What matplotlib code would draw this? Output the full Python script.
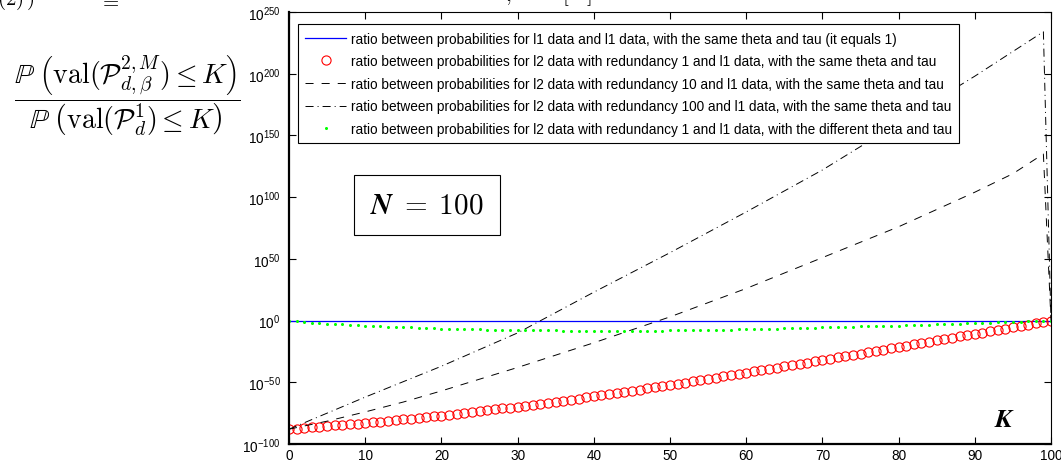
import matplotlib
matplotlib.use("Agg")
from matplotlib import pyplot as plt

plt.rcParams["font.family"] = ["Liberation Sans", "DejaVu Sans"]
plt.rcParams["mathtext.fontset"] = "cm"
plt.rcParams["lines.scale_dashes"] = False

# Data (exponents of 10)
k_points = list(range(101))
red_exp = [
    -88, -87.5, -87, -86.5, -86, -85.5, -85, -84.5, -84, -83.5,
    -83, -82.4, -81.8, -81.2, -80.6, -80, -79.4, -78.8, -78.2, -77.6,
    -77, -76.3, -75.6, -74.8, -74.1, -73.4, -72.7, -72, -71.2, -70.5,
    -69.8, -69, -68.1, -67.3, -66.5, -65.7, -64.8, -64, -63.2, -62.3,
    -61.5, -60.6, -59.6, -58.7, -57.8, -56.9, -55.9, -55, -54.1, -53.1,
    -52.2, -51.2, -50.2, -49.2, -48.2, -47.2, -46.2, -45.2, -44.2, -43.2,
    -42.2, -41.2, -40.1, -39.1, -38.1, -37.1, -36, -35, -34, -32.9,
    -31.9, -30.9, -29.8, -28.8, -27.7, -26.7, -25.6, -24.6, -23.5, -22.5,
    -21.4, -20.3, -19.3, -18.2, -17.2, -16.1, -15, -14, -12.9, -11.9,
    -10.8, -9.7, -8.6, -7.6, -6.5, -5.4, -4.3, -3.2, -2.2, -1.1,
    0,
]
green_exp = [
    0, -0.6, -1.1, -1.6, -2.0, -2.4, -2.8, -3.1, -3.4, -3.7,
    -4.0, -4.3, -4.6, -4.9, -5.1, -5.4, -5.6, -5.8, -6.0, -6.3,
    -6.5, -6.6, -6.8, -6.9, -7.0, -7.2, -7.3, -7.4, -7.5, -7.6,
    -7.7, -7.8, -7.8, -7.9, -8.0, -8.0, -8.1, -8.1, -8.1, -8.2,
    -8.2, -8.2, -8.2, -8.2, -8.2, -8.2, -8.2, -8.1, -8.1, -8.1,
    -8.0, -8.0, -7.9, -7.8, -7.7, -7.6, -7.5, -7.4, -7.3, -7.1,
    -7.0, -6.9, -6.8, -6.6, -6.5, -6.4, -6.2, -6.1, -5.9, -5.8,
    -5.6, -5.5, -5.3, -5.1, -5.0, -4.8, -4.6, -4.5, -4.3, -4.1,
    -4.0, -3.8, -3.6, -3.4, -3.2, -3.1, -2.9, -2.7, -2.5, -2.3,
    -2.1, -1.9, -1.7, -1.5, -1.3, -1.1, -0.9, -0.7, -0.5, -0.2,
    0,
]
k_line = [0, 5, 10, 15, 20, 25, 30, 35, 40, 45, 50, 55, 60, 65, 70, 75, 80, 85, 90, 95, 99, 100]
red10_exp = [-88, -81.5, -74, -66, -57, -47.5, -38, -28, -18, -7.5, 3, 14.5,
             26, 38.5, 51, 63.5, 76, 90, 104, 119, 135, 0]
red100_exp = [-88, -75, -62, -49.5, -37, -23.5, -10, 6.5, 23, 39, 55, 71.5,
              88, 105, 122, 141, 160, 179, 198, 218, 234, 0]
k_flat = [0, 100]
flat_exp = [0, 0]

labels = [
    "ratio between probabilities for l1 data and l1 data, with the same theta and tau (it equals 1)",
    "ratio between probabilities for l2 data with redundancy 1 and l1 data, with the same theta and tau",
    "ratio between probabilities for l2 data with redundancy 10 and l1 data, with the same theta and tau",
    "ratio between probabilities for l2 data with redundancy 100 and l1 data, with the same theta and tau",
    "ratio between probabilities for l2 data with redundancy 1 and l1 data, with the different theta and tau",
]
x_ticks = [0, 10, 20, 30, 40, 50, 60, 70, 80, 90, 100]
y_ticks = [1e-100, 1e-50, 1e0, 1e50, 1e100, 1e150, 1e200, 1e250]


def pow10(vals):
    return [10.0 ** v for v in vals]


fig = plt.figure(figsize=(10.61, 4.64), dpi=100)
ax = fig.add_axes([289 / 1061, 19 / 464, 762 / 1061, 432 / 464])

ax.plot(k_flat, pow10(flat_exp), color="#0000ff", lw=0.9, label=labels[0])
ax.plot(k_points, pow10(red_exp), ls="none", marker="o", ms=6.6, mfc="none",
        mec="#ff0000", mew=0.8, label=labels[1])
ax.plot(k_line, pow10(red10_exp), color="black", lw=0.7, dashes=(5.8, 5.8), label=labels[2])
ax.plot(k_line, pow10(red100_exp), color="black", lw=0.7,
        dashes=(5.8, 2.9, 0.7, 2.9), label=labels[3])
ax.plot(k_points, pow10(green_exp), ls="none", marker="o", ms=2.2, mfc="#00ff00",
        mec="none", label=labels[4])

ax.set_yscale("log")
ax.set_xlim(0, 100)
ax.set_ylim(1e-100, 1e250)
ax.set_xticks(x_ticks)
ax.set_yticks(y_ticks)
ax.minorticks_off()
ax.tick_params(direction="in", length=5, width=0.8, labelsize=9.8, top=True, right=True)
ax.tick_params(axis="x", pad=3)
ax.tick_params(axis="y", pad=6)
for side in ["left", "bottom"]:
    ax.spines[side].set_linewidth(1.6)
for side in ["top", "right"]:
    ax.spines[side].set_linewidth(0.8)

leg = ax.legend(loc="upper left", bbox_to_anchor=(0.0118, 0.972), fontsize=9.8,
                fancybox=False, edgecolor="black", framealpha=1, handlelength=2.95,
                labelspacing=0.63, borderpad=0.55, handletextpad=0.37, borderaxespad=0)
leg.get_frame().set_linewidth(0.8)

ax.text((427 - 289) / 762, (445 - 206) / 432,
        r"$\boldsymbol{N}\;\mathbf{=}\;\mathbf{100}$", fontsize=21,
        ha="center", va="center", transform=ax.transAxes,
        bbox=dict(boxstyle="square,pad=0.55", fc="white", ec="black", lw=0.8))
ax.text((1005 - 289) / 762, (445 - 420) / 432, r"$\boldsymbol{K}$", fontsize=19,
        ha="center", va="center", transform=ax.transAxes)

# Left-hand ratio label
fig.text(127 / 1061, 1 - 96 / 464,
         r"$\dfrac{\mathbb{P}\;\left(\mathrm{val}(\mathcal{P}^{2,M}_{d,\beta}) \leq K\right)}"
         r"{\mathbb{P}\;\left(\mathrm{val}(\mathcal{P}^{1}_{d}) \leq K\right)}$",
         fontsize=20, ha="center", va="center")

# Cropped fragments of text above the figure
fig.text(-3 / 1061, 1 - 5 / 464, r"$(2)\,)$", fontsize=15, ha="left", va="baseline")
fig.text(109 / 1061, 1 - 7 / 464, r"$=$", fontsize=15, ha="center", va="baseline")
fig.text(508 / 1061, 1 - 1 / 464, r"$,$", fontsize=15, ha="center", va="baseline")
fig.text(577 / 1061, 1 - 1 / 464, r"$[\quad]$", fontsize=15, ha="center", va="baseline")

fig.savefig("out.png", dpi=100)
